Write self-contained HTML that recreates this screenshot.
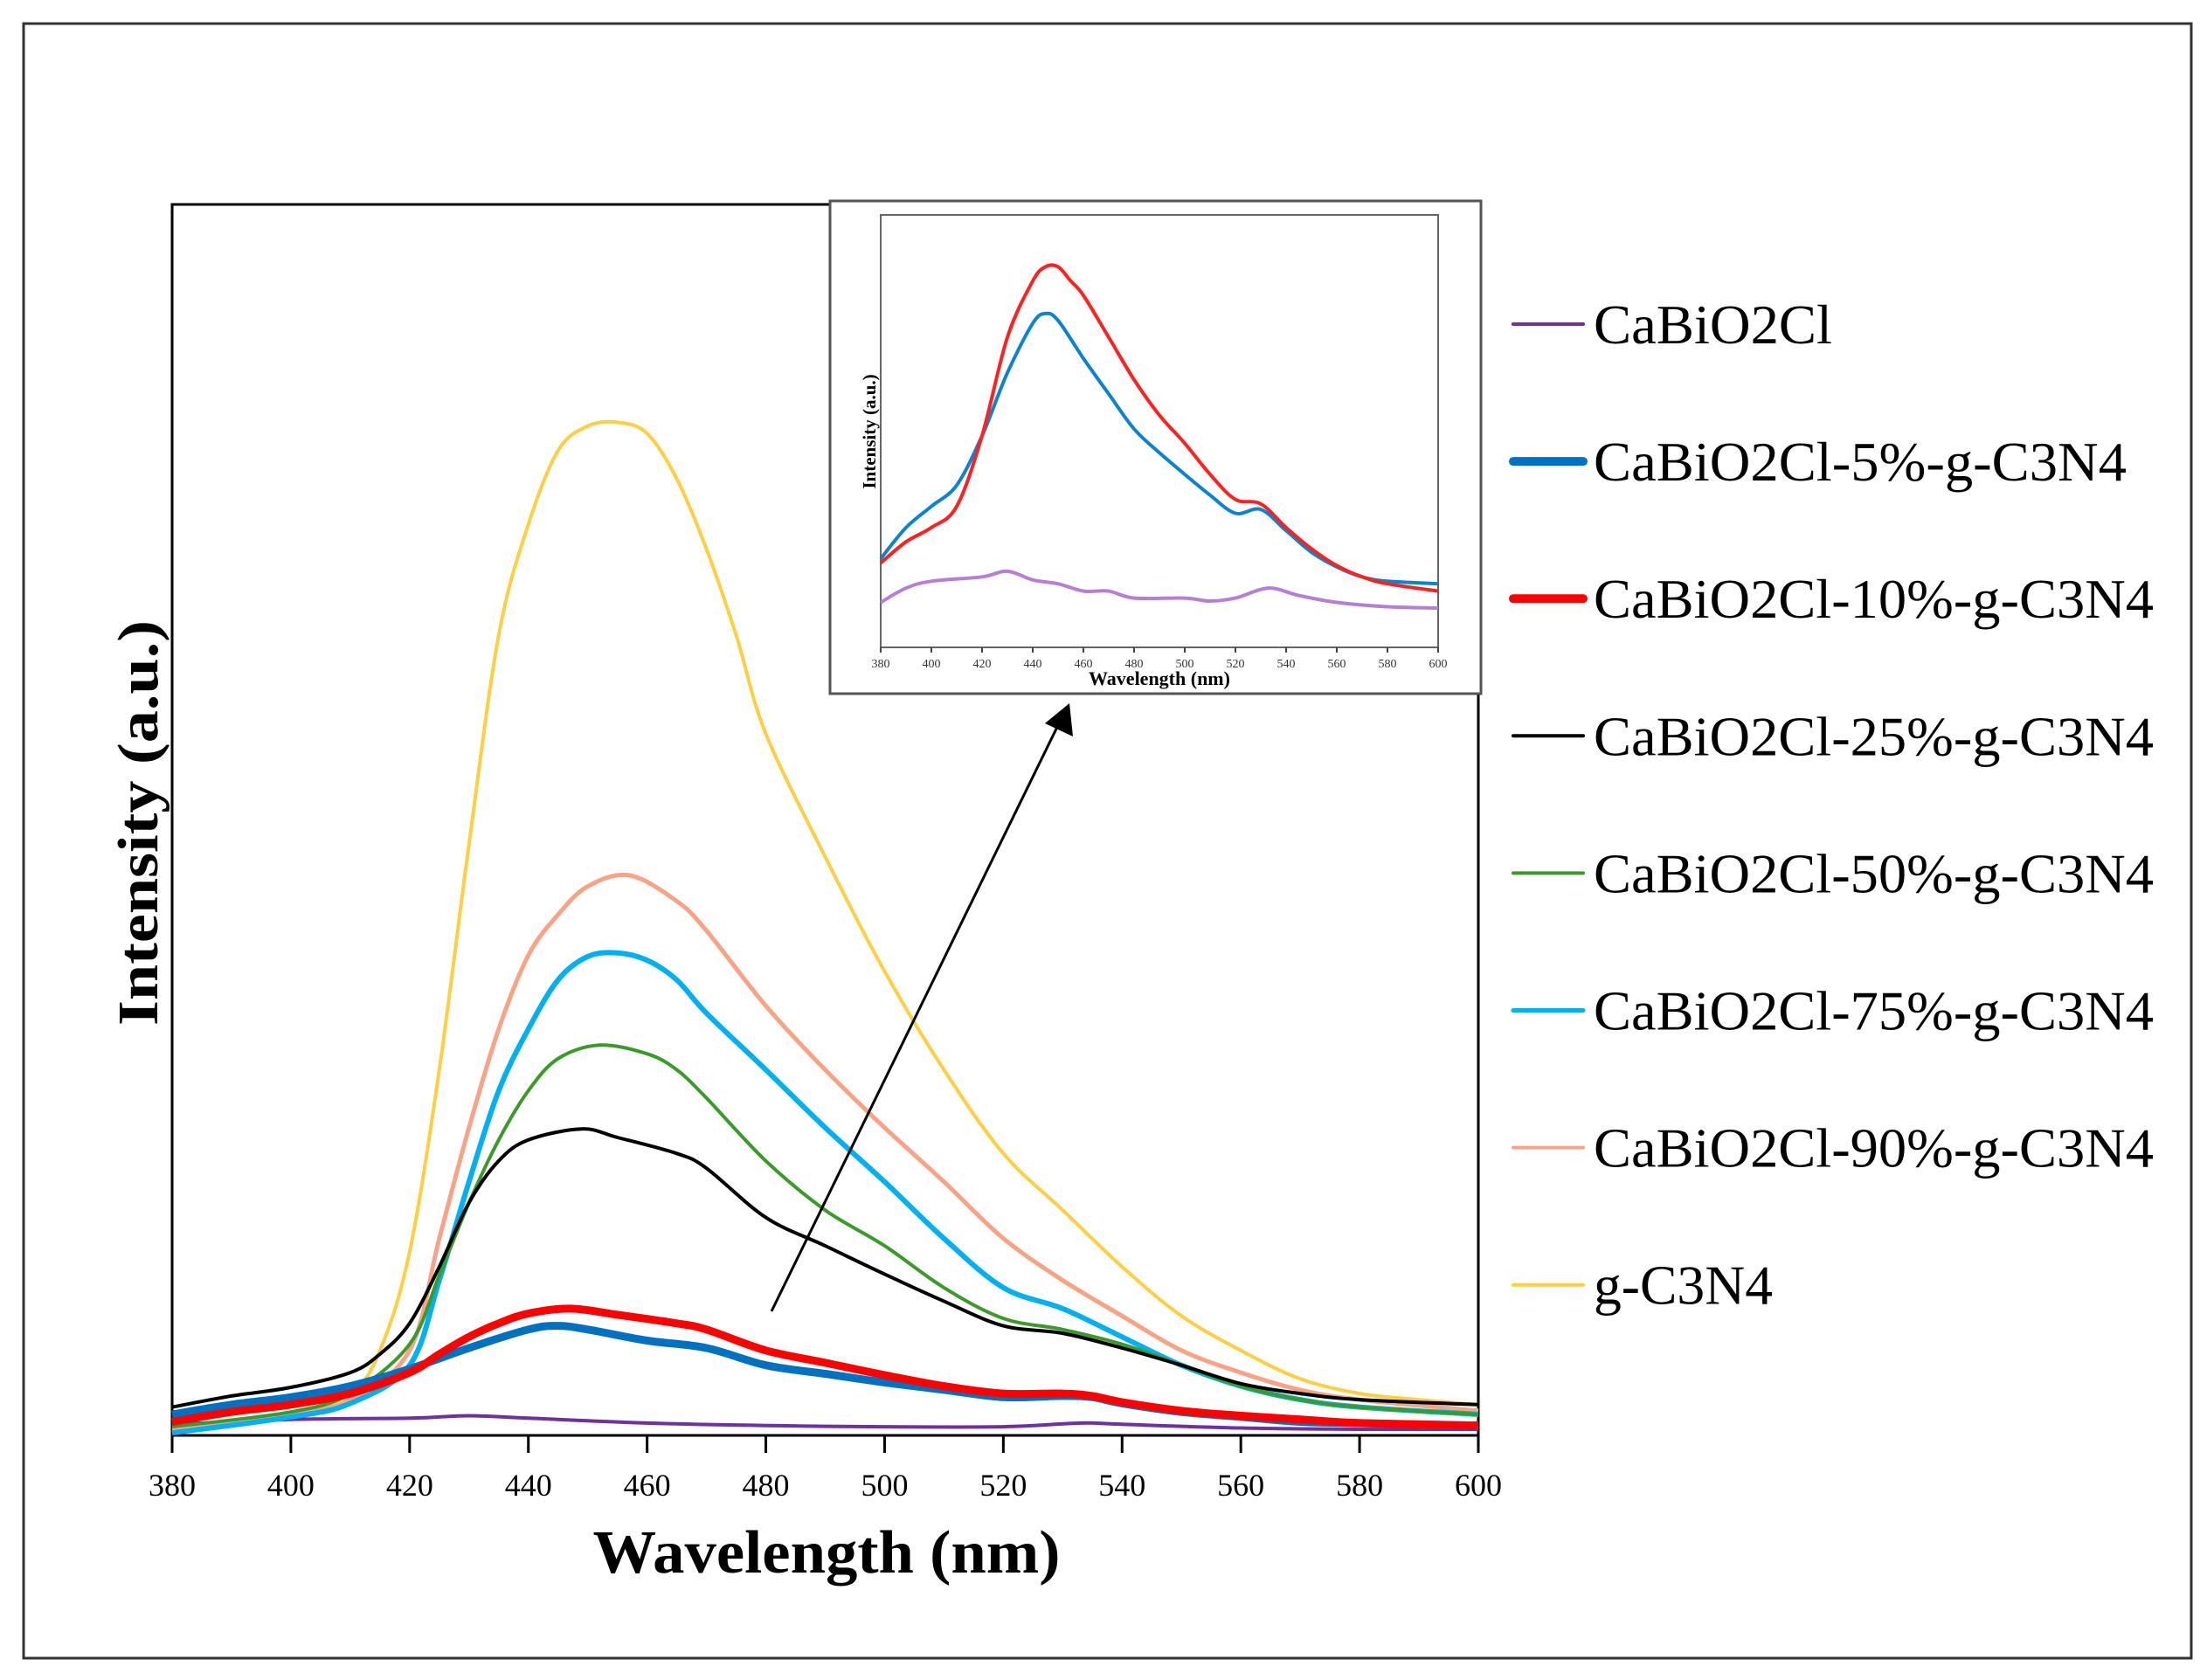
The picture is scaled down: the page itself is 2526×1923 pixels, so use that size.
<!DOCTYPE html>
<html><head><meta charset="utf-8"><style>
html,body{margin:0;padding:0;background:#fff}
svg{display:block}
text{font-family:"Liberation Serif",serif}
</style></head><body>
<svg id="chart" width="2526" height="1923" viewBox="0 0 2526 1923" xmlns="http://www.w3.org/2000/svg">
<rect x="27" y="27" width="2481" height="1871" fill="#fff" stroke="#333" stroke-width="3"/>
<g id="main"></g>
<g id="inset"></g>
<g id="legend"></g>
</svg>
<script>
const categories = ["CaBiO2Cl","CaBiO2Cl-5%-g-C3N4","CaBiO2Cl-10%-g-C3N4","CaBiO2Cl-25%-g-C3N4","CaBiO2Cl-50%-g-C3N4","CaBiO2Cl-75%-g-C3N4","CaBiO2Cl-90%-g-C3N4","g-C3N4"];
const xTicks = [380,400,420,440,460,480,500,520,540,560,580,600];
const purpleX = [380,400,420,430,440,460,480,500,520,533,540,560,580,600];
const purpleY = [0.9,1.3,1.4,1.6,1.4,1.0,0.8,0.7,0.7,1.0,0.9,0.6,0.5,0.5];
const blueX = [380,390,400,410,420,430,440,445,450,460,470,480,490,500,510,520,530,535,540,550,560,570,580,600];
const blueY = [1.7,2.5,3.1,4.0,5.4,7.1,8.6,8.9,8.6,7.7,7.1,5.7,5.0,4.3,3.7,3.1,3.2,3.1,2.6,1.9,1.5,1.1,1.0,0.8];
const redX = [380,390,400,410,420,425,430,435,440,447,455,465,470,480,490,500,510,520,530,535,540,550,560,570,580,600];
const redY = [1.1,1.9,2.5,3.4,5.1,6.6,8.0,9.1,9.9,10.3,9.8,9.1,8.6,6.9,5.9,4.9,4.0,3.4,3.4,3.2,2.7,2.0,1.6,1.3,1.0,0.8];
const blackX = [380,390,400,410,415,420,425,430,435,440,449,455,465,470,480,490,500,510,520,530,540,550,560,570,580,600];
const blackY = [2.3,3.2,3.9,5.1,6.6,9.1,13.7,18.9,22.3,24.0,24.9,24.2,22.9,21.7,17.7,15.4,13.1,10.9,8.9,8.3,7.1,5.7,4.2,3.4,2.9,2.5];
const greenX = [380,400,410,420,425,430,435,440,445,452,460,465,470,480,490,500,510,520,530,540,550,560,570,580,600];
const greenY = [0.7,1.9,3.4,7.4,13.0,18.9,24.0,28.0,30.6,31.7,31.0,29.7,27.4,22.3,18.3,15.4,12.0,9.5,8.6,7.4,5.7,4.0,2.9,2.3,1.7];
const cyanX = [380,400,410,420,425,430,435,440,445,450,455,460,465,470,480,490,500,510,520,530,540,550,560,570,580,600];
const cyanY = [0.2,1.5,2.6,5.7,12.6,20.6,28.0,33.0,37.0,38.9,39.2,38.6,37.0,34.3,29.7,25.0,20.6,16.0,12.0,10.3,8.0,5.7,4.0,2.9,2.3,1.7];
const salmonX = [380,400,410,420,425,430,435,440,445,450,457,465,470,480,490,500,510,520,530,540,550,560,570,580,600];
const salmonY = [0.5,1.7,2.9,6.9,16.0,25.0,33.0,39.0,42.3,44.6,45.5,43.4,41.0,34.9,29.7,25.0,20.6,16.0,12.6,9.7,6.9,5.1,3.7,2.9,2.0];
const yellowX = [380,400,410,415,420,425,430,435,440,445,450,455,460,465,470,475,480,490,500,510,520,530,540,550,560,570,580,590,600];
const yellowY = [0.3,1.7,3.4,6.9,14.9,29.7,48.0,65.0,74.0,80.0,82.0,82.3,81.4,77.7,72.0,65.0,57.0,47.0,37.7,29.7,22.9,18.3,13.7,9.7,6.9,4.6,3.4,2.9,2.5];
// inset data
const insetRedX = [380,390,400,410,420,430,440,445,450,455,460,470,480,490,500,510,520,530,540,550,560,570,580,600];
const insetRedY = [19.5,24.4,27.7,32.6,48.9,71.7,84.7,88,88,84.7,81.4,71.7,61.9,53.7,47.2,40,34.2,33.2,27.7,22.8,18.9,16.3,14.7,13];
const insetBlueX = [380,390,400,410,420,430,440,445,450,460,470,480,490,500,510,520,530,540,550,560,570,580,600];
const insetBlueY = [20.5,27.7,32.6,37.5,48.9,63.5,74.9,77.2,75.6,66.8,58.6,50.5,45,40,35.2,31,31.9,27,22,18.6,16.3,15.3,14.7];
const insetPurpleX = [380,390,400,420,430,440,450,460,470,480,500,510,520,533,545,560,580,600];
const insetPurpleY = [10.4,13.7,15.3,16.3,17.6,15.6,14.7,13,13,11.4,11.4,10.7,11.4,13.7,12,10.4,9.4,9.1];

const NS="http://www.w3.org/2000/svg";
function mk(tag,attrs,parent){const e=document.createElementNS(NS,tag);for(const k in attrs)e.setAttribute(k,attrs[k]);parent.appendChild(e);return e;}
function smooth(pts){let d="M"+pts[0][0].toFixed(1)+","+pts[0][1].toFixed(1);
 for(let i=0;i<pts.length-1;i++){const p0=pts[Math.max(0,i-1)],p1=pts[i],p2=pts[i+1],p3=pts[Math.min(pts.length-1,i+2)];
  const c1=[p1[0]+(p2[0]-p0[0])/6,p1[1]+(p2[1]-p0[1])/6],c2=[p2[0]-(p3[0]-p1[0])/6,p2[1]-(p3[1]-p1[1])/6];
  d+="C"+c1[0].toFixed(1)+","+c1[1].toFixed(1)+" "+c2[0].toFixed(1)+","+c2[1].toFixed(1)+" "+p2[0].toFixed(1)+","+p2[1].toFixed(1);}
 return d;}

// main axes
const L=197,R=1692,T=234,B=1643;
const xS=v=>L+(v-380)/(600-380)*(R-L);
const yS=v=>B-v/100*(B-T);
const main=document.getElementById('main');
const frame=mk('rect',{x:L,y:T,width:R-L,height:B-T,fill:'none',stroke:'#000','stroke-width':3},main);


xTicks.forEach(t=>{
 const ln=mk('line',{x1:xS(t),x2:xS(t),y1:B,y2:B+20,stroke:'#000','stroke-width':3},main);
 
 
 const tx=mk('text',{x:xS(t),y:1712,'font-size':36,'text-anchor':'middle'},main);
 tx.textContent=t;
 
 
});
const xt=mk('text',{x:946,y:1800,'font-size':70,'font-weight':'bold','text-anchor':'middle',textLength:535,lengthAdjust:'spacingAndGlyphs'},main);
xt.textContent='Wavelength (nm)';


const yt=mk('text',{x:0,y:0,'font-size':66,'font-weight':'bold','text-anchor':'middle',textLength:464,lengthAdjust:'spacingAndGlyphs',transform:'translate(180,942) rotate(-90)'},main);
yt.textContent='Intensity (a.u.)';



const series=[
 {x:purpleX,y:purpleY,c:'#7030a0',w:4,n:'series-cabio2cl'},
 {x:yellowX,y:yellowY,c:'#ffcf3f',w:4,n:'series-g-c3n4'},
 {x:salmonX,y:salmonY,c:'#f9a386',w:5,n:'series-90pct'},
 {x:cyanX,y:cyanY,c:'#00b0f0',w:6,n:'series-75pct'},
 {x:greenX,y:greenY,c:'#3a9a2a',w:4,n:'series-50pct'},
 {x:blackX,y:blackY,c:'#000',w:4,n:'series-25pct'},
 {x:blueX,y:blueY,c:'#0070c0',w:9,n:'series-5pct'},
 {x:redX,y:redY,c:'#ff0000',w:9,n:'series-10pct'}
];
series.forEach(s=>{
 const p=mk('path',{d:smooth(s.x.map((v,i)=>[xS(v),yS(s.y[i])])),fill:'none',stroke:s.c,'stroke-width':s.w,'stroke-linejoin':'round'},main);
 
 
});
// arrow
const ar=mk('line',{x1:883,y1:1501,x2:1213,y2:826,stroke:'#000','stroke-width':3},main);


const ah=mk('polygon',{points:'1224,805 1228,843 1196,828',fill:'#000'},main);



// inset
const ins=document.getElementById('inset');
const ib=mk('rect',{x:950,y:230,width:745,height:564,fill:'#fff',stroke:'#555','stroke-width':3},ins);


const iL=1008,iR=1646,iT=246,iB=741;
const ixS=v=>iL+(v-380)/220*(iR-iL);
const iyS=v=>iB-v/100*(iB-iT);
const ip=mk('rect',{x:iL,y:iT,width:iR-iL,height:iB-iT,fill:'none',stroke:'#666','stroke-width':2},ins);


xTicks.forEach(t=>{
 const ln=mk('line',{x1:ixS(t),x2:ixS(t),y1:iB,y2:iB+6,stroke:'#444','stroke-width':2},ins);
 
 
 const tx=mk('text',{x:ixS(t),y:764,'font-size':14,'text-anchor':'middle',fill:'#333'},ins);
 tx.textContent=t;
 
 
});
const ixt=mk('text',{x:1327,y:784,'font-size':22,'font-weight':'bold','text-anchor':'middle'},ins);
ixt.textContent='Wavelength (nm)';


const iyt=mk('text',{x:0,y:0,'font-size':21,'font-weight':'bold','text-anchor':'middle',transform:'translate(1002,494) rotate(-90)'},ins);
iyt.textContent='Intensity (a.u.)';


[{x:insetPurpleX,y:insetPurpleY,c:'#b57fd6',n:'inset-series-cabio2cl'},{x:insetBlueX,y:insetBlueY,c:'#0a84d0',n:'inset-series-5pct'},{x:insetRedX,y:insetRedY,c:'#ff2020',n:'inset-series-10pct'}].forEach(s=>{
 const p=mk('path',{d:smooth(s.x.map((v,i)=>[ixS(v),iyS(s.y[i])])),fill:'none',stroke:s.c,'stroke-width':4},ins);
 
 
});

// legend
const leg=document.getElementById('legend');
const legColors=['#7030a0','#0070c0','#ff0000','#000','#3a9a2a','#00b0f0','#f9a386','#ffcf3f'];
const legW=[4,10,10,4,4,5,4,4];
const legLen=[273,610,641,641,641,641,641,205];
categories.forEach((c,i)=>{
 const y=371+i*157.1;
 const ln=mk('line',{x1:1732,x2:1812,y1:y,y2:y,stroke:legColors[i],'stroke-width':legW[i],'stroke-linecap':'round'},leg);
 
 
 const tx=mk('text',{x:1824,y:y+22,'font-size':64,textLength:legLen[i],lengthAdjust:'spacingAndGlyphs'},leg);
 tx.textContent=c;
 
 
});
</script>
</body></html>
